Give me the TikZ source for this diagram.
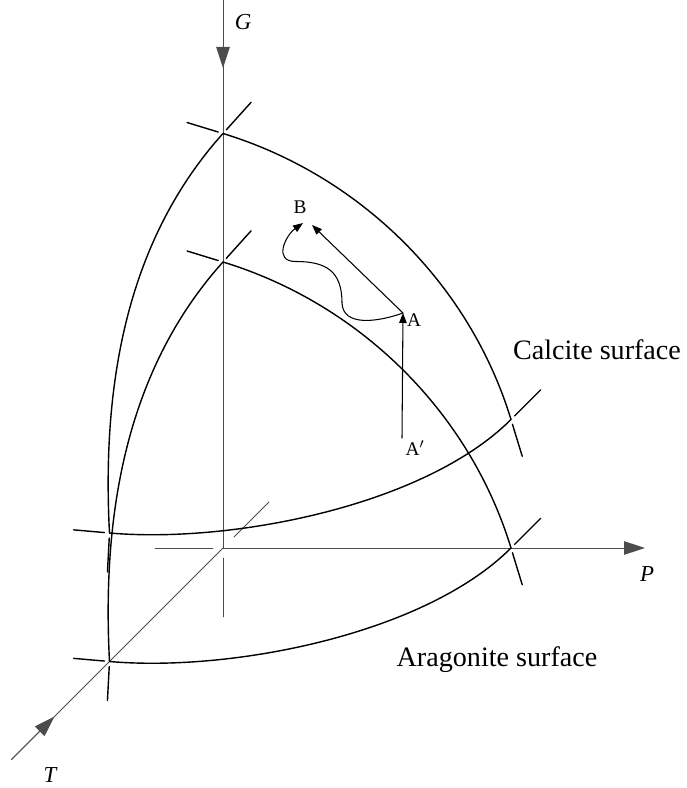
\documentclass[tikz,border=0pt]{standalone}
\usepackage{fontspec}
\setmainfont{Liberation Serif}
\usetikzlibrary{arrows.meta}

\tikzset{
  axis/.style={line width=0.5pt, black!70},
  axistip/.style={-{Triangle[length=0.42cm,width=0.27cm]}},
  surf/.style={line width=0.8pt},
  route/.style={line width=0.6pt},
  routetip/.style={-{Triangle[length=0.2cm,width=0.15cm]}},
  gp arc/.style={out=-17,in=107,looseness=0.9},
  gt arc/.style={out=228,in=93,looseness=0.9},
  tp arc/.style={out=-5,in=225,looseness=0.75},
  axislabel/.style={font=\fontsize{13}{15}\selectfont\itshape},
  surflabel/.style={font=\fontsize{16}{19}\selectfont},
  ptlabel/.style={font=\fontsize{11}{13}\selectfont, inner sep=1pt}
}

\begin{document}
\begin{tikzpicture}[line cap=round,line join=round]
  \useasboundingbox (-4.46,-4.8) rectangle (9.28,10.96);
  \coordinate (O) at (0,0);
  \coordinate (Gend) at (0,10.96);
  \coordinate (Gtip) at (0,9.6);
  \coordinate (Pend) at (8.44,0);
  \coordinate (Tend) at (-4.23,-4.23);
  \coordinate (Ttip) at (-3.37,-3.37);
  % aragonite surface
  \coordinate (Ga) at (0,5.72);
  \coordinate (Pa) at (5.76,0);
  \coordinate (Ta) at (-2.27,-2.27);
  % calcite surface
  \coordinate (Gc) at (0,8.29);
  \coordinate (Pc) at (5.76,2.57);
  \coordinate (Tc) at (-2.27,0.3);
  % axes
  \draw[axis] (Gend) -- (O);
  \draw[axis,axistip] (Gend) -- (Gtip);
  \draw[axis,axistip] (O) -- (Pend);
  \draw[axis] (O) -- (Tend);
  \draw[axis,axistip] (Tend) -- (Ttip);
  \draw[axis] (0,-0.2) -- (0,-1.38);
  \draw[axis] (-0.2,0) -- (-1.36,0);
  \draw[axis] (0.22,0.22) -- (0.92,0.92);
  % the two surfaces
  \foreach \m in {a,c} {
    \draw[surf] (G\m) to[gp arc] (P\m);
    \draw[surf] (G\m) to[gt arc] (T\m);
    \draw[surf] (T\m) to[tp arc] (P\m);
    \draw[surf] (G\m) ++(163:0.1) -- ++(163:0.65);
    \draw[surf] (G\m) ++(48:0.1) -- ++(48:0.74);
    \draw[surf] (P\m) ++(-73:0.1) -- ++(-73:0.67);
    \draw[surf] (P\m) ++(45:0.1) -- ++(45:0.74);
    \draw[surf] (T\m) ++(175:0.1) -- ++(175:0.62);
    \draw[surf] (T\m) ++(267:0.1) -- ++(267:0.68);
  }
  % paths from A to B
  \coordinate (Ap) at (3.58,2.2);
  \coordinate (A) at (3.6,4.7);
  \coordinate (B) at (1.78,6.46);
  \coordinate (Bw) at (1.6,6.5);
  \draw[route,routetip] (Ap) -- (A);
  \draw[route,routetip] (A) -- (B);
  \draw[route,routetip] (A) .. controls (3.1,4.52) and (2.4,4.42) .. (2.38,4.9)
    .. controls (2.38,5.55) and (2.05,5.73) .. (1.45,5.73)
    .. controls (1.0,5.73) and (1.25,6.25) .. (Bw);
  % labels
  \node[axislabel] (lG) at (0.4,10.52) {G};
  \node[axislabel] (lP) at (8.48,-0.52) {P};
  \node[axislabel] (lT) at (-3.46,-4.54) {T};
  \node[ptlabel] (lA) at (3.82,4.56) {A};
  \node[ptlabel] (lAp) at (3.84,2.0) {A$'$};
  \node[ptlabel] (lB) at (1.54,6.82) {B};
  \node[surflabel] (lcalc) at (7.48,3.96) {Calcite surface};
  \node[surflabel] (larag) at (5.48,-2.24) {Aragonite surface};
\end{tikzpicture}
\end{document}
